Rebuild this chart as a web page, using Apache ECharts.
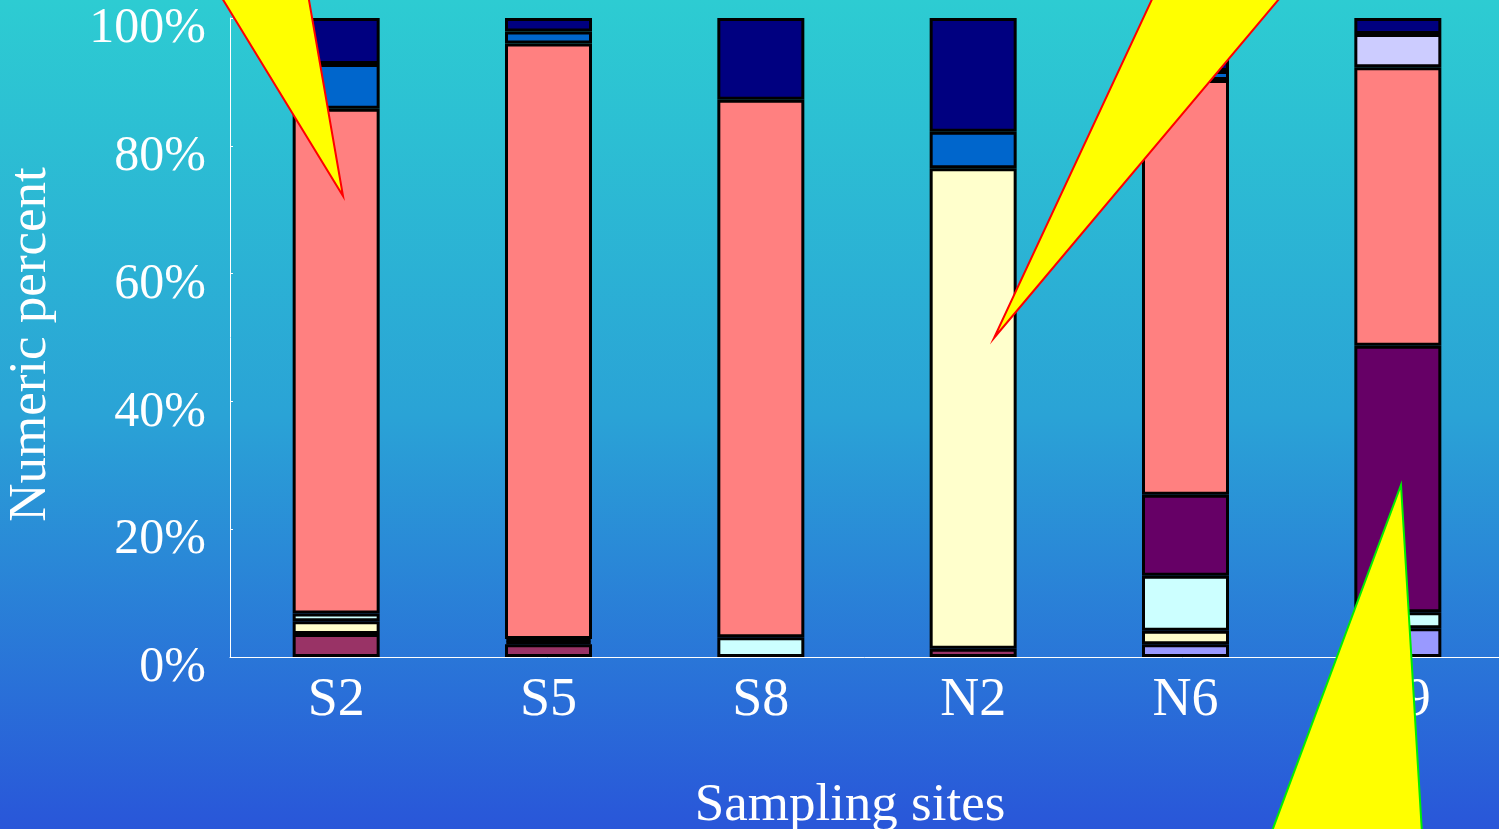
<!DOCTYPE html>
<html>
<head>
<meta charset="utf-8">
<script src="https://cdn.jsdelivr.net/npm/echarts@6/dist/echarts.min.js"></script>
<style>
  html, body { margin: 0; padding: 0; }
  #chart {
    width: 1499px; height: 829px;
    background: linear-gradient(to bottom, #2dccd2 0%, #2aa3d6 50%, #2956d9 100%);
  }
</style>
</head>
<body>
<div id="chart"></div>
<script>
// Sampling sites along the x axis
const sites = ['S2', 'S5', 'S8', 'N2', 'N6', 'N9'];

// Numeric percent of each group per site (stacked bottom to top)
const group1 = [0, 0, 0, 0, 2.0, 4.5];
const group2 = [3.6, 2.0, 0, 1.3, 0, 0];
const group3 = [2.0, 0.4, 0, 75.2, 2.1, 0];
const group4 = [1.2, 0.4, 3.1, 0, 8.6, 2.5];
const group5 = [0, 0, 0, 0, 12.7, 41.7];
const group6 = [79.0, 93.2, 84.1, 0, 64.9, 43.6];
const group7 = [7.0, 1.9, 0, 5.7, 1.4, 0];
const group8 = [0, 0, 0, 0, 0, 5.2];
const group9 = [7.2, 2.1, 12.8, 17.8, 8.3, 2.5];

const groups = [group1, group2, group3, group4, group5, group6, group7, group8, group9];
const groupColors = ['#9999ff', '#993366', '#ffffcc', '#ccffff', '#660066',
                     '#ff8080', '#0066cc', '#ccccff', '#000080'];

const serif = '"Liberation Serif", "Times New Roman", serif';

const series = groups.map((vals, i) => ({
  name: 'Group ' + (i + 1),
  type: 'bar',
  stack: 'total',
  barWidth: 87,
  data: vals.map(v => (v > 0 ? v : null)),
  itemStyle: { color: groupColors[i], borderColor: '#000', borderWidth: 3 },
  silent: true
}));

// Yellow pointer callouts laid over the plot
function callout(points, stroke) {
  return {
    type: 'polygon',
    z: 100,
    shape: { points: points },
    style: { fill: '#ffff00', stroke: stroke, lineWidth: 2 }
  };
}

const chart = echarts.init(document.getElementById('chart'), null, { renderer: 'canvas' });
chart.setOption({
  backgroundColor: 'transparent',
  animation: false,
  grid: { left: 230, top: 18, bottom: 172, right: -5, containLabel: false, outerBoundsMode: 'none' },
  xAxis: {
    type: 'category',
    data: sites,
    name: 'Sampling sites',
    nameLocation: 'middle',
    nameGap: 123,
    nameTextStyle: { color: '#fff', fontFamily: serif, fontSize: 53, padding: [0, 34, 0, 0] },
    axisLine: { show: true, lineStyle: { color: '#fff', width: 1 } },
    axisTick: { show: false },
    axisLabel: { color: '#fff', fontFamily: serif, fontSize: 54, margin: 17 }
  },
  yAxis: {
    type: 'value',
    min: 0,
    max: 100,
    interval: 20,
    name: 'Numeric percent',
    nameLocation: 'middle',
    nameGap: 172,
    nameRotate: 90,
    nameTextStyle: { color: '#fff', fontFamily: serif, fontSize: 53, padding: [0, 14, 0, 0] },
    axisLine: { show: true, lineStyle: { color: '#fff', width: 1 } },
    axisTick: { show: true, inside: true, length: 3, lineStyle: { color: '#fff' } },
    splitLine: { show: false },
    axisLabel: {
      color: '#fff', fontFamily: serif, fontSize: 50, margin: 24,
      verticalAlign: 'top', lineHeight: 22,
      formatter: v => v + '%'
    }
  },
  series: series,
  graphic: [
    callout([[211, -20], [305.5, -20], [343, 196]], '#ff0000'),
    callout([[1161, -20], [1295, -20], [994, 338]], '#ff0000'),
    callout([[1401, 485], [1423, 850], [1265, 850]], '#00ee00')
  ]
});
</script>
</body>
</html>
